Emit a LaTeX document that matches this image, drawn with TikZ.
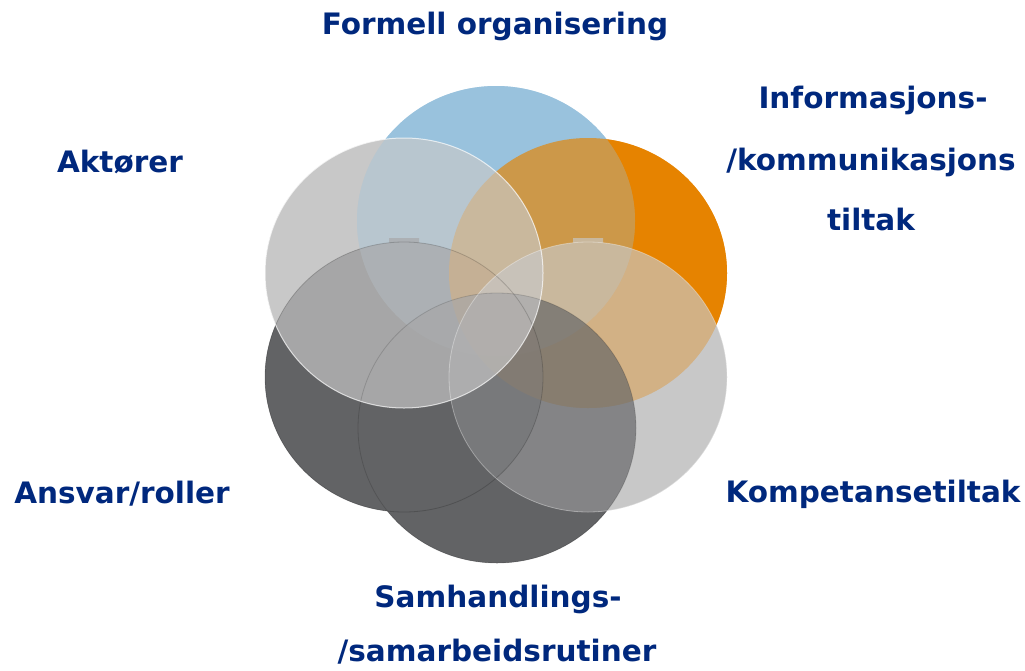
\documentclass[tikz,border=0pt]{standalone}
\usepackage{fontspec}
\setmainfont{DejaVu Sans}
\definecolor{ringblue}{RGB}{153,194,221}
\definecolor{ringorange}{RGB}{230,131,0}
\definecolor{ringlight}{RGB}{200,200,200}
\definecolor{ringdark}{RGB}{98,99,101}
\definecolor{labelblue}{RGB}{0,40,125}
\begin{document}
\begin{tikzpicture}[x=1pt,y=-1pt,
  lbl/.style={text=labelblue, font=\bfseries\fontsize{29.5}{32}\selectfont,
              inner sep=0pt, anchor=base},
  ring/.style={x radius=139pt, y radius=135pt}]
\useasboundingbox (0,0) rectangle (1025,670);

% ring centres, six around a hexagon
\coordinate (cB) at (496,221);   % formell organisering
\coordinate (cO) at (588,273);   % informasjon
\coordinate (cR) at (588,377);   % kompetanse
\coordinate (cS) at (497,428);   % samhandling
\coordinate (cL) at (404,377);   % ansvar
\coordinate (cA) at (404,273);   % aktoerer

% base layer: the lowest ring of every overlap shows through, opaque
\fill[ringlight] (cA) ellipse [ring];
\fill[ringdark]  (cS) ellipse [ring];
\fill[ringlight] (cR) ellipse [ring] (573,238) rectangle (603,245);
\fill[ringorange] (cO) ellipse [ring];
\fill[ringdark]  (cL) ellipse [ring] (389,238) rectangle (419,245);
\fill[ringblue]  (cB) ellipse [ring];

% blended layer, lowest to highest
\begin{scope}[fill opacity=0.667]
  \fill[ringblue]  (cB) ellipse [ring];
  \fill[ringdark]  (cL) ellipse [ring] (389,238) rectangle (419,245);
  \fill[ringorange] (cO) ellipse [ring];
  \fill[ringlight] (cR) ellipse [ring] (573,238) rectangle (603,245);
  \fill[ringdark]  (cS) ellipse [ring];
  \fill[ringlight] (cA) ellipse [ring];
\end{scope}

% faint ring edges
\draw[black, draw opacity=0.18, line width=0.8pt] (cL) ellipse [ring];
\draw[black, draw opacity=0.15, line width=0.8pt] (cS) ellipse [ring];
\draw[white, draw opacity=0.35, line width=0.8pt] (cR) ellipse [ring];
\draw[white, draw opacity=0.7, line width=1pt] (cA) ellipse [ring];

% labels
\node[lbl] (tForm) at (495,34) {Formell organisering};
\node[lbl] (tInf1) at (873,108) {Informasjons-};
\node[lbl] (tInf2) at (871,170) {/kommunikasjons};
\node[lbl] (tInf3) at (871,230) {tiltak};
\node[lbl] (tAkt)  at (120,172) {Aktører};
\node[lbl] (tAns)  at (122,503) {Ansvar/roller};
\node[lbl] (tKomp) at (873,502) {Kompetansetiltak};
\node[lbl] (tSam1) at (498,607) {Samhandlings-};
\node[lbl] (tSam2) at (497,661) {/samarbeidsrutiner};
\end{tikzpicture}
\end{document}
